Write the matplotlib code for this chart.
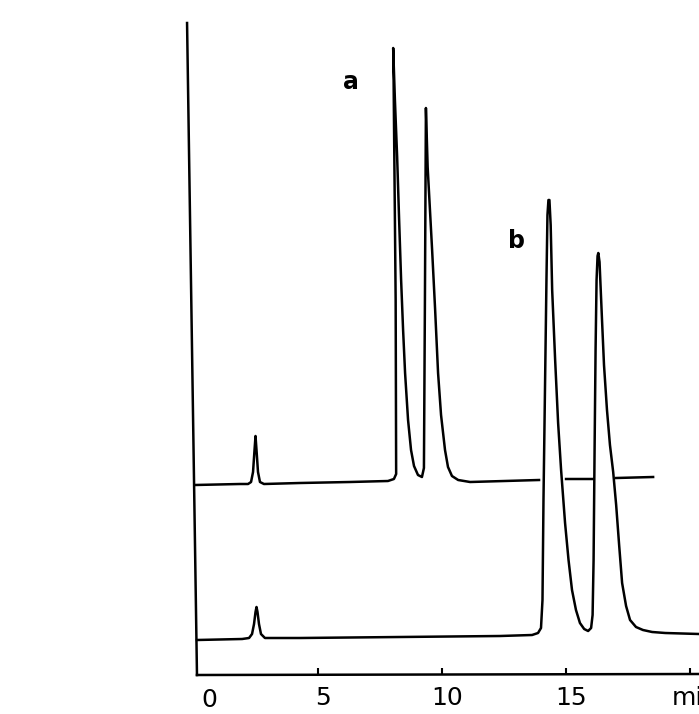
import numpy as np
import matplotlib
matplotlib.use("Agg")
from matplotlib import pyplot as plt
from matplotlib.transforms import ScaledTranslation

# trace a (upper), time in min / detector response (arbitrary units); NaN = pen gap
time_a = [0.04, 1.85, 2.18, 2.30, 2.38, 2.44, 2.48, 2.52, 2.58, 2.66, 2.82, 4.27, 6.29,
          7.82, 8.06, 8.15, 8.13, 8.04, 8.03, 8.10, 8.19, 8.27, 8.35, 8.43, 8.51, 8.63,
          8.75, 8.87, 9.03, 9.19, 9.27, 9.31, 9.35, 9.42, 9.60, 9.72, 9.84, 9.96, 10.12,
          10.24, 10.40, 10.65, 11.13, 13.91, np.nan, 15.00, 16.09, np.nan, 17.02, 18.51]
resp_a = [190, 191, 191, 193, 203, 225, 239, 225, 203, 193, 191, 192, 193,
          194, 196, 201, 375, 615, 627, 575, 518, 455, 395, 345, 302, 255,
          225, 209, 200, 198, 207, 375, 567, 508, 425, 366, 302, 260, 225,
          208, 199, 195, 193, 195, np.nan, 196, 196, np.nan, 197, 198]

# trace b (lower)
time_b = [0.12, 1.94, 2.22, 2.34, 2.42, 2.48, 2.52, 2.56, 2.62, 2.70, 2.86, 4.27, 8.31,
          12.34, 13.63, 13.87, 13.99, 14.05, 14.09, 14.15, 14.21, 14.25, 14.29, 14.33,
          14.38, 14.44, 14.56, 14.68, 14.80, 14.96, 15.10, 15.24, 15.40, 15.56, 15.73,
          15.89, 16.01, 16.07, 16.11, 16.15, 16.19, 16.23, 16.27, 16.30, 16.35, 16.45,
          16.53, 16.65, 16.77, 16.90, 17.02, 17.14, 17.26, 17.42, 17.58, 17.82, 18.10,
          18.47, 19.00, 20.36]
resp_b = [35, 36, 37, 41, 51, 63, 68, 63, 51, 41, 37, 37, 38,
          39, 40, 42, 47, 75, 175, 285, 395, 460, 475, 475,
          450, 385, 315, 252, 205, 152, 115, 85, 65, 52, 46,
          44, 47, 60, 115, 225, 325, 395, 419, 422, 413, 355,
          310, 265, 230, 203, 170, 130, 92, 69, 55, 48, 45,
          43, 42, 41]

tick_pos = [5, 10, 15, 20]
tick_lab = ["5", "10", "15", "min"]

W, H = 699, 714
fig = plt.figure(figsize=(W / 100, H / 100), dpi=100)
x0 = 194 - 0.5 * 24.8
ax = fig.add_axes([x0 / W, (H - 675) / H, (W - x0) / W, 675 / H])
ax.set_xlim(-0.5, 20.36)
ax.set_ylim(0, 675)

lw = 1.8
ax.plot(time_a, resp_a, color="black", lw=lw, solid_joinstyle="round")
ax.plot(time_b, resp_b, color="black", lw=lw, solid_joinstyle="round")

# hand-drawn looking axes
for s in ax.spines.values():
    s.set_visible(False)
ax.plot([-0.28, 0.12], [652, 0], color="black", lw=lw, clip_on=False)
ax.plot([0.12, 20.36], [0, 1], color="black", lw=lw, clip_on=False)

ax.set_yticks([])
ax.set_xticks(tick_pos)
ax.set_xticklabels(tick_lab, fontsize=18)
ax.tick_params(axis="x", direction="in", length=5, width=1.5, pad=8, color="black")
off = ScaledTranslation(5 / 100, 0, fig.dpi_scale_trans)
for lab in ax.get_xticklabels():
    lab.set_transform(lab.get_transform() + off)
# the zero sits under the corner, no tick there
ax.text(0.6, -13, "0", fontsize=18, ha="center", va="top")

ax.text(6.33, 593, "a", fontsize=17, fontweight="bold", ha="center", va="center")
ax.text(13.02, 434, "b", fontsize=17, fontweight="bold", ha="center", va="center")

fig.savefig("out.png", dpi=100)
